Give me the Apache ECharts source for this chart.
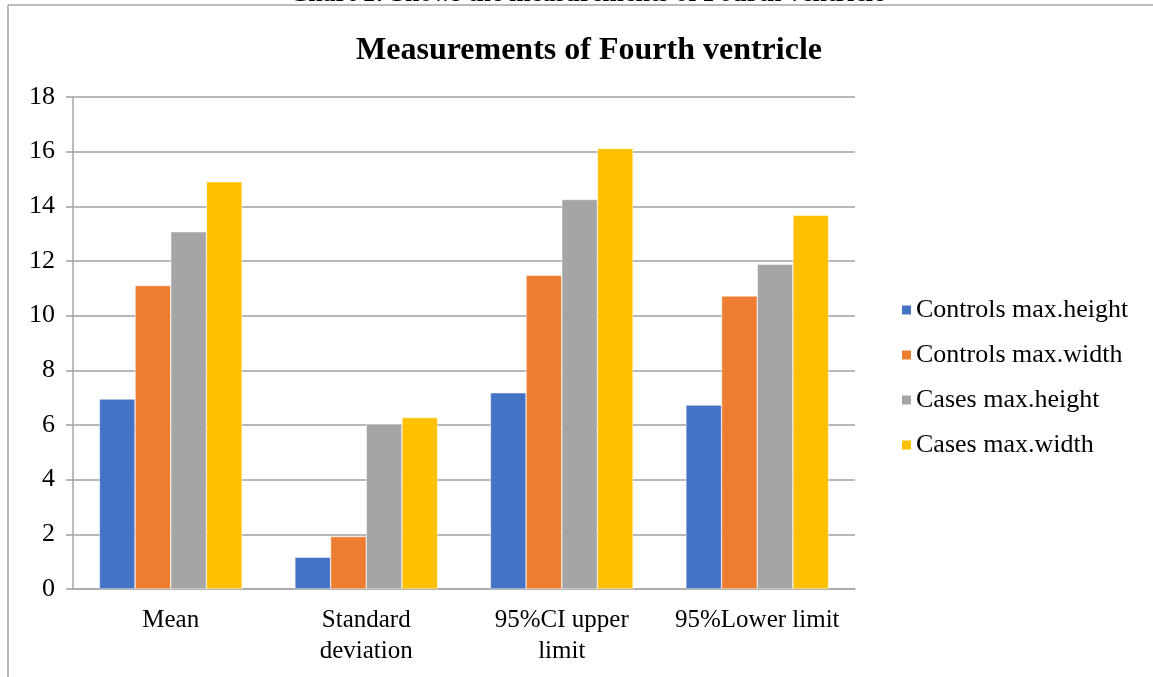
<!DOCTYPE html>
<html>
<head>
<meta charset="utf-8">
<script src="https://cdn.jsdelivr.net/npm/echarts@6/dist/echarts.min.js"></script>
<style>
  html, body { margin: 0; padding: 0; background: #fff; }
  #chart { width: 1153px; height: 677px; }
</style>
</head>
<body>
<div id="chart"></div>
<script>
// categories and series
const categories = ['Mean', 'Standard\ndeviation', '95%CI upper\nlimit', '95%Lower limit'];
const seriesNames = ['Controls max.height', 'Controls max.width', 'Cases max.height', 'Cases max.width'];
const controlsHeight = [6.95, 1.16, 7.18, 6.73];
const controlsWidth = [11.1, 1.92, 11.48, 10.72];
const casesHeight = [13.07, 6.04, 14.25, 11.88];
const casesWidth = [14.9, 6.27, 16.12, 13.67];
const colors = ['#4472C4', '#ED7D31', '#A5A5A5', '#FFC000'];

const font = 'Liberation Serif, Times New Roman, serif';
const chart = echarts.init(document.getElementById('chart'));

const values = [controlsHeight, controlsWidth, casesHeight, casesWidth];

chart.setOption({
    animation: false,
    color: colors,
    title: {
        text: 'Measurements of Fourth ventricle',
        left: 584, textAlign: 'center', top: 30,
        textStyle: { fontFamily: font, fontSize: 32, fontWeight: 'bold', color: '#000' }
    },
    legend: {
        orient: 'vertical',
        left: 895, top: 292,
        itemWidth: 11, itemHeight: 11, itemGap: 19,
        icon: 'rect',
        textStyle: { fontFamily: font, fontSize: 26, color: '#000', padding: [0, 0, 0, -1] }
    },
    grid: { left: 73, right: 298, top: 97, bottom: 88 },
    xAxis: {
        type: 'category',
        data: categories,
        axisLine: { lineStyle: { color: '#a6a6a6', width: 1.5 } },
        axisTick: { show: false },
        axisLabel: { interval: 0, fontFamily: font, fontSize: 25, color: '#000', margin: 16, lineHeight: 31 }
    },
    yAxis: {
        type: 'value',
        min: 0, max: 18, interval: 2,
        axisLine: { show: true, lineStyle: { color: '#a6a6a6', width: 1.5 } },
        axisTick: { show: true, length: 7, lineStyle: { color: '#a0a0a0', width: 1.5 } },
        splitLine: { lineStyle: { color: '#a0a0a0', width: 1.5 } },
        axisLabel: { fontFamily: font, fontSize: 26, color: '#000', margin: 18 }
    },
    series: seriesNames.map((name, i) => ({
        name: name,
        type: 'bar',
        data: values[i],
        barGap: '0%',
        barCategoryGap: '27%',
        itemStyle: { borderColor: '#fff', borderWidth: 0.5 }
    })),
    graphic: [
        {
            type: 'line',
            shape: { x1: 8, y1: 5, x2: 1153, y2: 5 },
            style: { stroke: '#a6a6a6', lineWidth: 1.5 }
        },
        {
            type: 'line',
            shape: { x1: 8, y1: 5, x2: 8, y2: 677 },
            style: { stroke: '#a6a6a6', lineWidth: 1.5 }
        },
        {
            type: 'text',
            x: 587, y: -19,
            style: {
                text: 'Chart 1: Shows the measurements of Fourth ventricle',
                align: 'center', verticalAlign: 'top',
                fontFamily: font, fontSize: 26, fontWeight: 'bold', fill: '#000'
            }
        }
    ]
});
</script>
</body>
</html>
